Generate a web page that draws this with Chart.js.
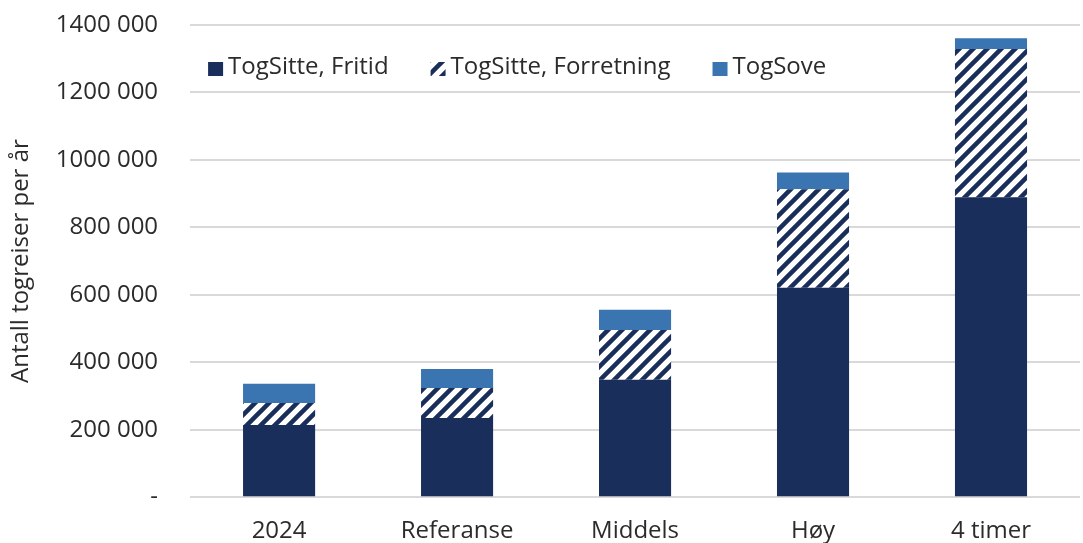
<!DOCTYPE html>
<html>
<head>
<meta charset="utf-8">
<script src="https://cdn.jsdelivr.net/npm/chart.js@4/dist/chart.umd.min.js"></script>
<style>
  html, body { margin: 0; background: #fff; }
  #wrap { width: 1083px; height: 543px; }
</style>
</head>
<body>
<div id="wrap"><canvas id="chart"></canvas></div>
<script>
// data
const categories = ["2024", "Referanse", "Middels", "Høy", "4 timer"];
const fritid = [214000, 235000, 348000, 621000, 889000];
const forretning = [65000, 89000, 148000, 292000, 440000];
const sove = [57000, 56000, 60000, 50000, 32000];
const yTickLabels = ["-", "200 000", "400 000", "600 000", "800 000", "1000 000", "1200 000", "1400 000"];

const navy = "#1a2e5b";
const blue = "#3a74b1";
const textColor = "#2b2b2b";
const family = "'Open Sans', Lato, sans-serif";

function hatch() {
    const size = 14;
    const c = document.createElement("canvas");
    c.width = size; c.height = size;
    const ctx = c.getContext("2d");
    ctx.fillStyle = "#fff";
    ctx.fillRect(0, 0, size, size);
    ctx.strokeStyle = navy;
    ctx.lineWidth = 4.5;
    ctx.beginPath();
    ctx.moveTo(-size, size * 2); ctx.lineTo(size * 2, -size);
    ctx.moveTo(-size, size); ctx.lineTo(size, -size);
    ctx.moveTo(0, size * 2); ctx.lineTo(size * 2, 0);
    ctx.stroke();
    return ctx.createPattern(c, "repeat");
}

// legend drawn by hand, sitting inside the plot area like the original
const insideLegend = {
    id: "insideLegend",
    afterDraw(chart) {
        const ctx = chart.ctx;
        const area = chart.chartArea;
        let x = area.left + 18;
        const y = area.top + 42;
        ctx.save();
        ctx.font = "24px " + family;
        ctx.textBaseline = "middle";
        chart.data.datasets.forEach(ds => {
            ctx.fillStyle = ds.backgroundColor;
            ctx.fillRect(x, y - 5, 15, 14);
            ctx.fillStyle = textColor;
            ctx.fillText(ds.label, x + 20, y);
            x += 20 + ctx.measureText(ds.label).width + 42;
        });
        ctx.restore();
    }
};

Chart.defaults.color = textColor;

new Chart(document.getElementById("chart"), {
    type: "bar",
    data: {
        labels: categories,
        datasets: [
            { label: "TogSitte, Fritid", data: fritid, backgroundColor: navy },
            { label: "TogSitte, Forretning", data: forretning, backgroundColor: hatch() },
            { label: "TogSove", data: sove, backgroundColor: blue }
        ]
    },
    options: {
        responsive: true,
        maintainAspectRatio: false,
        animation: false,
        categoryPercentage: 1,
        barPercentage: 0.405,
        layout: { padding: { left: 7, right: 3, top: 0, bottom: -23 } },
        plugins: {
            tooltip: { enabled: false },
            legend: { display: false }
        },
        scales: {
            x: {
                stacked: true,
                grid: { display: false, drawTicks: false },
                border: { display: false },
                ticks: { font: { family: family, size: 24 }, padding: 20 }
            },
            y: {
                stacked: true,
                min: 0,
                max: 1400000,
                grid: { color: "#d9d9d9", lineWidth: 2, drawTicks: false },
                border: { display: false },
                ticks: {
                    stepSize: 200000,
                    font: { family: family, size: 24 },
                    padding: 32,
                    callback: (v, i) => yTickLabels[i]
                },
                title: {
                    display: true,
                    text: "Antall togreiser per år",
                    font: { family: family, size: 24 },
                    padding: { top: 0, bottom: -12 }
                },
                afterFit(scale) {
                    scale.paddingTop = 25;
                    scale.paddingBottom = 14;
                }
            }
        }
    },
    plugins: [insideLegend]
});
</script>
</body>
</html>
